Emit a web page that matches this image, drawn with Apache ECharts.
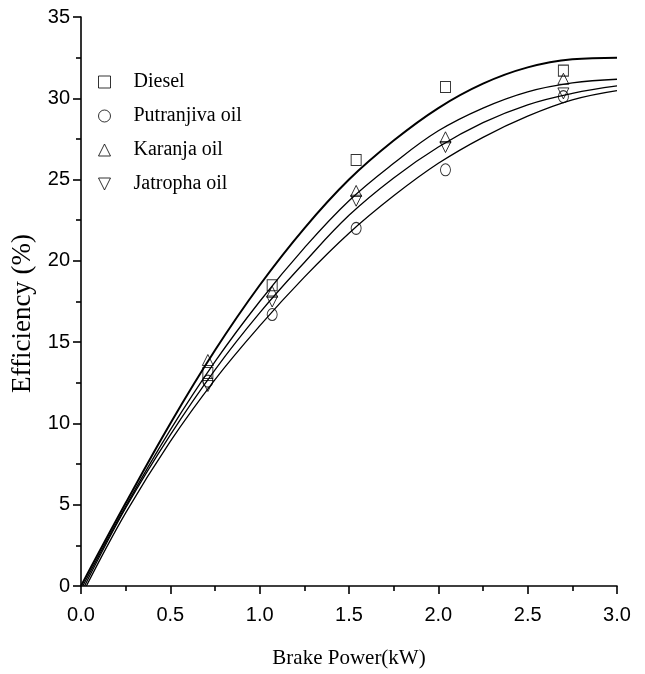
<!DOCTYPE html>
<html>
<head>
<meta charset="utf-8">
<script src="https://cdn.jsdelivr.net/npm/echarts@6/dist/echarts.min.js"></script>
<style>
html,body{margin:0;padding:0;background:#fff;}
#c{width:645px;height:674px;}
</style>
</head>
<body>
<div id="c"></div>
<script>
// Measured points
const powerX = [0.71, 1.07, 1.54, 2.04, 2.70];
const dieselPts = [13.1, 18.5, 26.2, 30.7, 31.7];
const putranjivaPts = [12.6, 16.7, 22.0, 25.6, 30.1];
const karanjaPts = [13.9, 18.1, 24.3, 27.6, 31.2];
const jatrophaPts = [12.3, 17.5, 23.7, 27.0, 30.3];

// Fitted curves
const dieselFitX = [0.00, 0.25, 0.50, 0.75, 1.00, 1.25, 1.50, 1.75, 2.00, 2.25, 2.50, 2.75, 3.00];
const dieselFit  = [0.0, 5.1, 10.0, 14.5, 18.5, 22.0, 25.0, 27.4, 29.4, 30.9, 31.9, 32.4, 32.5];
const karanjaFitX = [0.01, 0.25, 0.50, 0.75, 1.00, 1.25, 1.50, 1.75, 2.00, 2.25, 2.50, 2.75, 3.00];
const karanjaFit  = [0.0, 4.9, 9.6, 13.8, 17.5, 20.8, 23.7, 26.0, 28.0, 29.4, 30.4, 30.95, 31.17];
const jatrophaFitX = [0.02, 0.25, 0.50, 0.75, 1.00, 1.25, 1.50, 1.75, 2.00, 2.25, 2.50, 2.75, 3.00];
const jatrophaFit  = [0.0, 4.8, 9.3, 13.3, 16.8, 19.9, 22.8, 25.1, 27.0, 28.5, 29.6, 30.3, 30.76];
const putranjivaFitX = [0.03, 0.25, 0.50, 0.75, 1.00, 1.25, 1.50, 1.75, 2.00, 2.25, 2.50, 2.75, 3.00];
const putranjivaFit  = [0.0, 4.5, 8.9, 12.7, 16.0, 19.0, 21.7, 24.0, 26.0, 27.6, 28.9, 29.9, 30.47];

const seriesNames = ['Diesel', 'Putranjiva oil', 'Karanja oil', 'Jatropha oil'];
const xTicks = [0, 0.5, 1.0, 1.5, 2.0, 2.5, 3.0];
const yTicks = [0, 5, 10, 15, 20, 25, 30, 35];

const downTri = 'path://M0,0 L10,0 L5,10 Z';
const symbols = ['rect', 'circle', 'triangle', downTri];
const symSizes = [[10, 11], [10, 12], [11, 11], [11, 11]];
const pts = [dieselPts, putranjivaPts, karanjaPts, jatrophaPts];
const fits = [[dieselFitX, dieselFit, 2], [putranjivaFitX, putranjivaFit, 1.3], [karanjaFitX, karanjaFit, 1.3], [jatrophaFitX, jatrophaFit, 1.3]];

const zip = (xs, ys) => xs.map((x, i) => [x, ys[i]]);

const series = [];
fits.forEach((f, i) => {
  series.push({
    name: seriesNames[i] + ' fit',
    type: 'line',
    data: zip(f[0], f[1]),
    smooth: 0.4,
    showSymbol: false,
    symbol: 'none',
    lineStyle: {color: '#000', width: f[2]},
    silent: true,
    z: 2
  });
});
pts.forEach((p, i) => {
  series.push({
    name: seriesNames[i],
    type: 'scatter',
    data: zip(powerX, p),
    symbol: symbols[i],
    symbolSize: symSizes[i],
    itemStyle: {color: 'rgba(0,0,0,0)', borderColor: '#000', borderWidth: 1},
    z: 3
  });
});

const sans = '"Liberation Sans Narrow", "Liberation Sans", Arial, sans-serif';
const serif = '"Liberation Serif", "Times New Roman", serif';

const chart = echarts.init(document.getElementById('c'), null, {renderer: 'canvas'});
chart.setOption({
  animation: false,
  backgroundColor: '#fff',
  grid: {left: 81, right: 28, top: 17, bottom: 87, containLabel: false},
  legend: {
    data: seriesNames.map((n, i) => ({name: n, icon: symbols[i]})),
    orient: 'vertical',
    left: 93,
    top: 67,
    itemWidth: 12,
    itemHeight: 12,
    itemGap: 14,
    itemStyle: {color: 'rgba(0,0,0,0)', borderColor: '#000', borderWidth: 1},
    textStyle: {fontFamily: serif, fontSize: 20, color: '#000', padding: [0, 0, 0, 18]},
    selectedMode: false
  },
  xAxis: {
    type: 'value',
    min: 0, max: 3, interval: 0.5,
    name: 'Brake Power(kW)',
    nameLocation: 'middle',
    nameGap: 62,
    nameTextStyle: {fontFamily: serif, fontSize: 21, color: '#000'},
    axisLine: {show: true, lineStyle: {color: '#000', width: 1.6}},
    axisTick: {show: true, inside: false, length: 8, lineStyle: {color: '#000', width: 1.6}},
    minorTick: {show: true, splitNumber: 2, length: 5, lineStyle: {color: '#000', width: 1.6}},
    axisLabel: {fontFamily: sans, fontSize: 20, color: '#000', margin: 19,
      formatter: v => xTicks.includes(v) ? v.toFixed(1) : ''},
    splitLine: {show: false}
  },
  yAxis: {
    type: 'value',
    min: 0, max: 35, interval: 5,
    name: 'Efficiency (%)',
    nameLocation: 'middle',
    nameGap: 44,
    nameTextStyle: {fontFamily: serif, fontSize: 27, color: '#000', padding: [0, 24, 0, 0]},
    axisLine: {show: true, lineStyle: {color: '#000', width: 1.6}},
    axisTick: {show: true, inside: false, length: 8, lineStyle: {color: '#000', width: 1.6}},
    minorTick: {show: true, splitNumber: 2, length: 5, lineStyle: {color: '#000', width: 1.6}},
    axisLabel: {fontFamily: sans, fontSize: 20, color: '#000', margin: 11,
      formatter: v => yTicks.includes(v) ? String(v) : ''},
    splitLine: {show: false}
  },
  series: series
});
</script>
</body>
</html>
